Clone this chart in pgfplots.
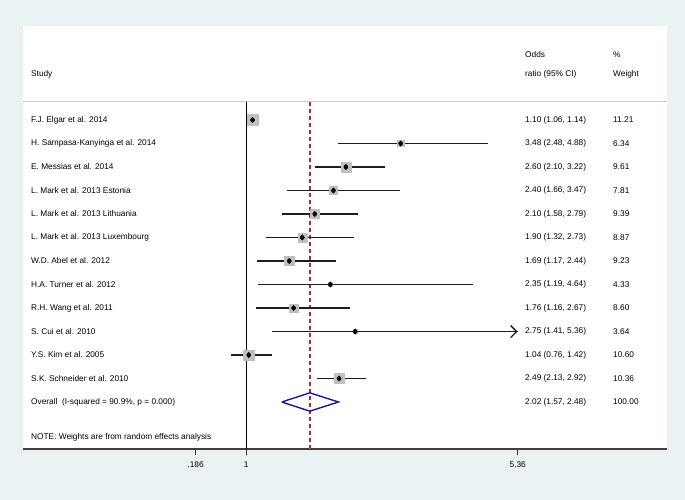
\documentclass[border=0pt]{standalone}
\usepackage{pgfplots}
\pgfplotsset{compat=1.18}
\usepackage{pgfplotstable}
\usepackage{fontspec}
\setmainfont{Liberation Sans}
\usetikzlibrary{arrows.meta}
\definecolor{bgout}{RGB}{234,242,243}
\definecolor{boxgray}{RGB}{192,192,192}
\definecolor{dashred}{RGB}{180,40,50}
\definecolor{diamblue}{RGB}{24,30,140}
\definecolor{sepgray}{RGB}{205,205,205}
\definecolor{cigray}{RGB}{30,30,30}

\pgfplotstableread{
row or lo hi w
0 1.10 1.06 1.14 11.21
1 3.48 2.48 4.88 6.34
2 2.60 2.10 3.22 9.61
3 2.40 1.66 3.47 7.81
4 2.10 1.58 2.79 9.39
5 1.90 1.32 2.73 8.87
6 1.69 1.17 2.44 9.23
7 2.35 1.19 4.64 4.33
8 1.76 1.16 2.67 8.60
9 2.75 1.41 5.36 3.64
10 1.04 0.76 1.42 10.60
11 2.49 2.13 2.92 10.36
}\studies

\newcommand{\fs}{\fontsize{8.3}{10}\selectfont}

\begin{document}
\begin{tikzpicture}[x=1pt,y=1pt]
\useasboundingbox (0,0) rectangle (685,500);
\fill[bgout] (0,0) rectangle (685,500);
\begin{axis}[
  at={(23pt,51pt)}, anchor=south west,
  scale only axis, width=644pt, height=423pt,
  xmin=-2.587, xmax=7.758,
  ymin=-4, ymax=14, y dir=reverse,
  axis background/.style={fill=white},
  axis x line*=bottom, axis y line=none,
  x axis line style={black!75, line width=1.3pt},
  xtick={0.186,1,5.36}, xticklabels={.186,1,5.36},
  tick align=outside, major tick length=6pt,
  xtick style={black!80, line width=1pt},
  ticklabel style={font=\fs},
  xticklabel style={yshift=-3.5pt},
  /pgf/number format/assume math mode=true,
  clip=false,
]
% separator
\addplot[sepgray, line width=0.9pt, forget plot] coordinates {(-2.587,-0.78) (7.758,-0.78)};
% boxes
\addplot[scatter, only marks, mark=square*, boxgray,
  scatter/use mapped color={draw=boxgray, fill=boxgray},
  visualization depends on={\thisrow{w}\as\wt},
  scatter/@pre marker code/.append style={/tikz/mark size=0.5*\wt}]
  table[x=or, y=row]{\studies};
% reference lines
\addplot[black, line width=1.3pt] coordinates {(1,-0.78) (1,14)};
\addplot[draw=dashred, line width=1.5pt, dash pattern=on 4.5pt off 2.5pt] coordinates {(2.02,-0.78) (2.02,14)};
% CIs
\addplot[cigray, only marks, mark=none,
  error bars/.cd, x dir=both, x explicit, error mark=none,
  error bar style={line width=1.6pt, cigray}]
  table[x=or, y=row, x error plus expr=\thisrow{hi}-\thisrow{or}, x error minus expr=\thisrow{or}-\thisrow{lo}]{\studies};
\addplot[cigray, line width=1.6pt, -{Straight Barb[length=6pt,width=12pt,line width=1.4pt]}] coordinates {(4.6,9) (5.36,9)};
% point estimates
\addplot[only marks, mark=diamond*, mark size=2.7pt, black] table[x=or, y=row]{\studies};
% overall diamond
\addplot[diamblue, line width=1.4pt] coordinates {(1.57,12) (2.02,11.61) (2.48,12) (2.02,12.39) (1.57,12)};
% text
\begin{scope}[every node/.style={font=\fs, inner sep=0pt, anchor=west}]
\node at (axis cs:-2.459,-1.955) {Study};
\node at (axis cs:5.477,-2.80) {Odds};
\node at (axis cs:5.477,-1.955) {ratio (95\% CI)};
\node at (axis cs:6.891,-2.80) {\%};
\node at (axis cs:6.891,-1.955) {Weight};
\node at (axis cs:-2.459,0) {F.J. Elgar et al. 2014};
\node at (axis cs:-2.459,1) {H. Sampasa-Kanyinga et al. 2014};
\node at (axis cs:-2.459,2) {E. Messias et al. 2014};
\node at (axis cs:-2.459,3) {L. Mark et al. 2013 Estonia};
\node at (axis cs:-2.459,4) {L. Mark et al. 2013 Lithuania};
\node at (axis cs:-2.459,5) {L. Mark et al. 2013 Luxembourg};
\node at (axis cs:-2.459,6) {W.D. Abel et al. 2012};
\node at (axis cs:-2.459,7) {H.A. Turner et al. 2012};
\node at (axis cs:-2.459,8) {R.H. Wang et al. 2011};
\node at (axis cs:-2.459,9) {S. Cui et al. 2010};
\node at (axis cs:-2.459,10) {Y.S. Kim et al. 2005};
\node at (axis cs:-2.459,11) {S.K. Schneider et al. 2010};
\node at (axis cs:-2.459,12) {Overall\ \ (I-squared = 90.9\%, p = 0.000)};
\node at (axis cs:-2.459,13.52) {NOTE: Weights are from random effects analysis};
\node at (axis cs:5.477,0) {1.10 (1.06, 1.14)};
\node at (axis cs:5.477,1) {3.48 (2.48, 4.88)};
\node at (axis cs:5.477,2) {2.60 (2.10, 3.22)};
\node at (axis cs:5.477,3) {2.40 (1.66, 3.47)};
\node at (axis cs:5.477,4) {2.10 (1.58, 2.79)};
\node at (axis cs:5.477,5) {1.90 (1.32, 2.73)};
\node at (axis cs:5.477,6) {1.69 (1.17, 2.44)};
\node at (axis cs:5.477,7) {2.35 (1.19, 4.64)};
\node at (axis cs:5.477,8) {1.76 (1.16, 2.67)};
\node at (axis cs:5.477,9) {2.75 (1.41, 5.36)};
\node at (axis cs:5.477,10) {1.04 (0.76, 1.42)};
\node at (axis cs:5.477,11) {2.49 (2.13, 2.92)};
\node at (axis cs:5.477,12) {2.02 (1.57, 2.48)};
\node at (axis cs:6.891,0) {11.21};
\node at (axis cs:6.891,1) {6.34};
\node at (axis cs:6.891,2) {9.61};
\node at (axis cs:6.891,3) {7.81};
\node at (axis cs:6.891,4) {9.39};
\node at (axis cs:6.891,5) {8.87};
\node at (axis cs:6.891,6) {9.23};
\node at (axis cs:6.891,7) {4.33};
\node at (axis cs:6.891,8) {8.60};
\node at (axis cs:6.891,9) {3.64};
\node at (axis cs:6.891,10) {10.60};
\node at (axis cs:6.891,11) {10.36};
\node at (axis cs:6.891,12) {100.00};
\end{scope}
\end{axis}
\end{tikzpicture}
\end{document}
